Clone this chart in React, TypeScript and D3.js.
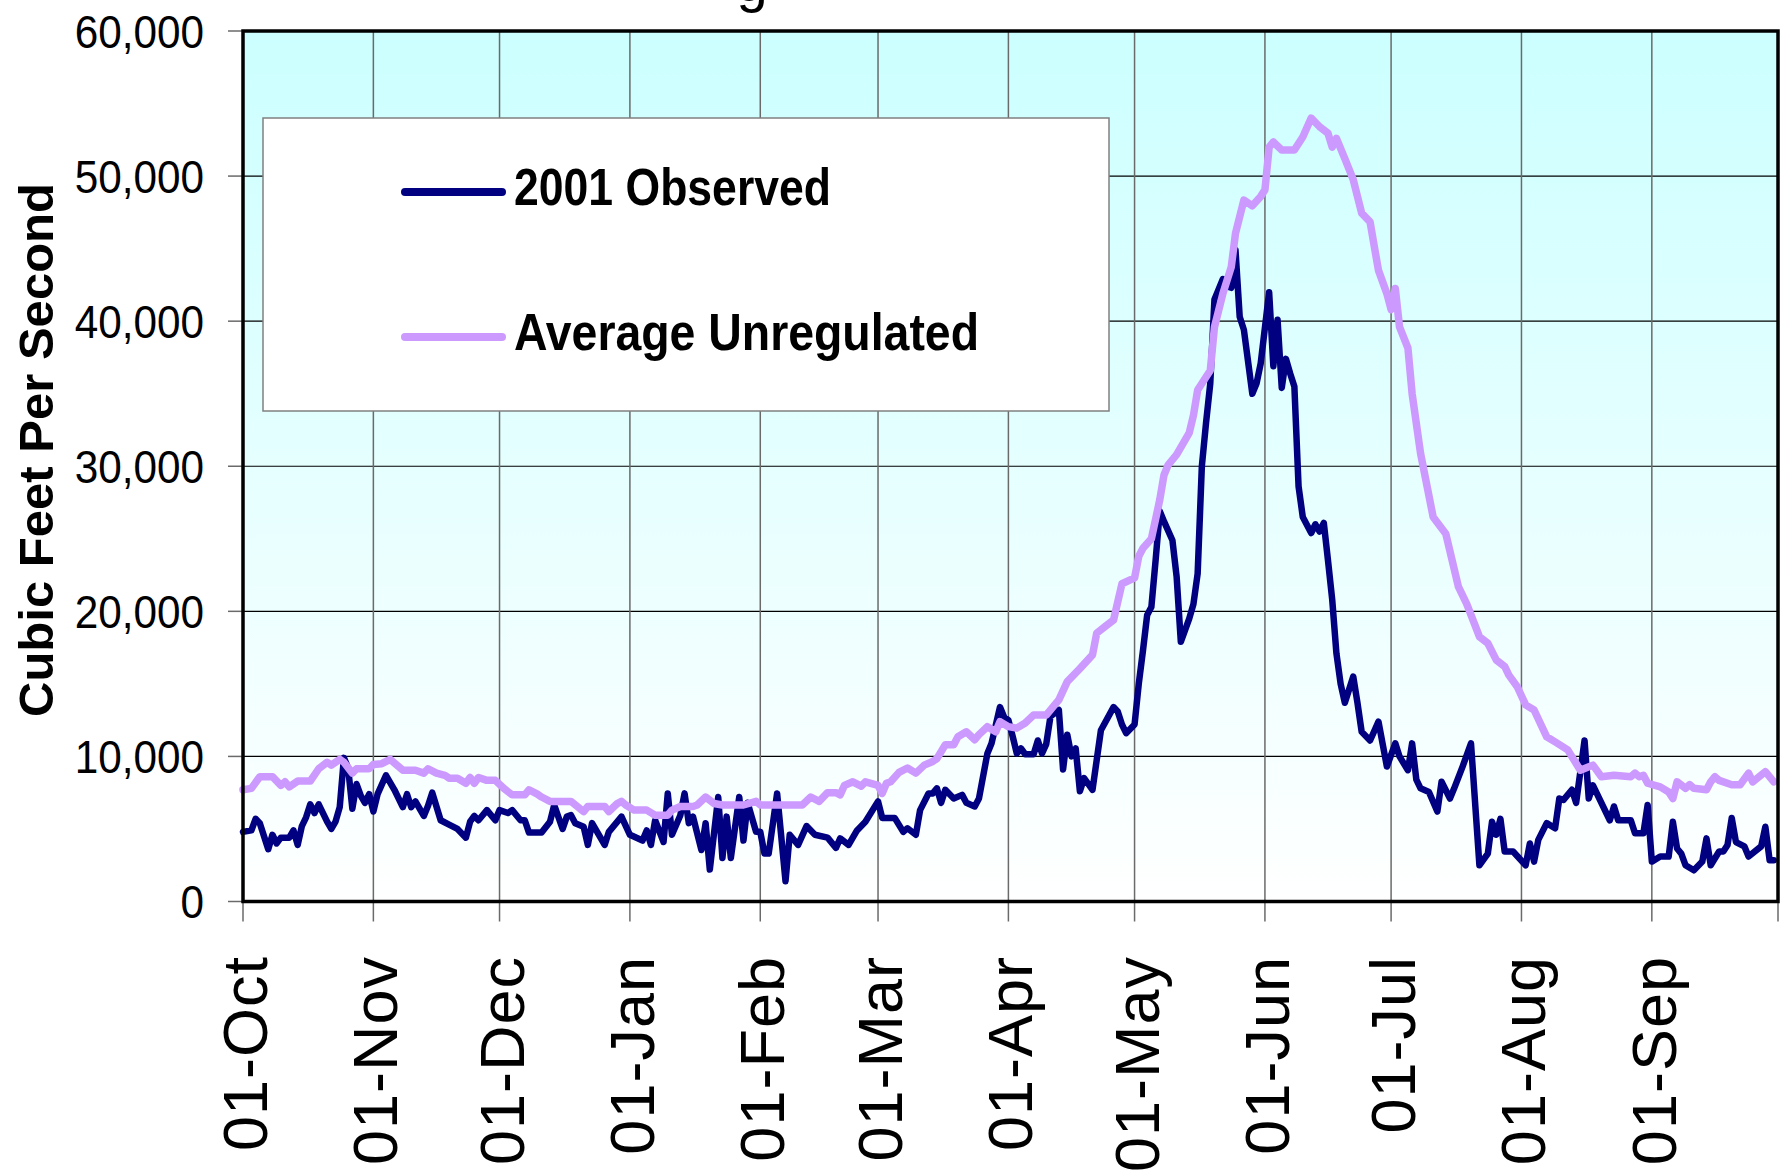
import { useEffect, useRef } from 'react';
import * as d3 from 'd3';

// flows: [days after 01-Oct-2000, thousand cubic feet per second]
const observed: [number, number][] = [
  [0,4.8],[2,4.9],[3,5.7],[4,5.4],[6,3.6],[7,4.6],[8,4.0],[9,4.4],[11,4.4],[12,4.9],[13,3.9],[14,5.2],[15,5.8],[16,6.7],[17,6.1],[18,6.7],[20,5.5],[21,5.0],[22,5.5],[23,6.5],[24,9.9],[25,9.2],[26,6.4],[27,8.1],[28,7.3],[29,6.8],[30,7.4],[31,6.2],[32,7.4],[34,8.7],[36,7.7],[38,6.5],[39,7.4],[40,6.5],[41,6.9],[43,5.9],[44,6.6],[45,7.5],[47,5.6],[49,5.3],[51,5.0],[53,4.4],[54,5.5],[55,5.9],[56,5.6],[58,6.3],[60,5.6],[61,6.3],[63,6.1],[64,6.3],[66,5.6],[67,5.6],[68,4.75],[71,4.75],[73,5.5],[74,6.65],[76,5.0],[77,5.85],[78,5.95],[79,5.4],[81,5.15],[82,3.9],[83,5.4],[86,3.9],[87,4.8],[90,5.85],[92,4.6],[95,4.2],[96,4.9],[97,3.9],[98,5.6],[100,4.1],[101,7.45],[102,4.6],[104,5.95],[105,7.45],[106,5.4],[107,5.85],[109,3.55],[110,5.4],[111,2.2],[113,7.2],[114,3.0],[115,5.85],[116,3.0],[118,7.2],[119,4.2],[120,6.8],[122,4.8],[123,4.8],[124,3.3],[125,3.3],[127,7.45],[128,4.45],[129,1.4],[130,4.6],[132,3.9],[134,5.2],[136,4.6],[139,4.4],[141,3.7],[142,4.35],[144,3.9],[146,4.9],[148,5.5],[151,6.9],[152,5.75],[155,5.75],[157,4.8],[158,5.05],[160,4.6],[161,6.3],[163,7.45],[164,7.45],[165,7.8],[166,6.8],[167,7.7],[169,7.1],[171,7.35],[172,6.8],[174,6.55],[175,7.1],[177,10.2],[178,10.9],[180,13.4],[181,12.7],[182,12.5],[183,11.4],[184,10.2],[185,10.55],[186,10.15],[188,10.15],[189,11.1],[190,10.2],[191,10.85],[192,12.75],[194,13.2],[195,9.1],[196,11.5],[197,10.0],[198,10.55],[199,7.6],[200,8.5],[202,7.7],[203,9.75],[204,11.8],[207,13.4],[208,13.1],[209,12.2],[210,11.6],[212,12.2],[213,15.0],[214,17.3],[215,19.75],[216,20.3],[217,23.5],[218,26.9],[219,26.2],[221,24.9],[222,22.4],[223,17.9],[225,19.5],[226,20.5],[227,22.6],[228,30.0],[229,33.0],[230,35.7],[231,41.5],[233,42.9],[234,42.4],[235,42.3],[236,44.9],[237,40.3],[238,39.4],[240,35.0],[241,35.7],[242,37.1],[244,42.0],[245,36.9],[246,40.1],[247,35.4],[248,37.4],[249,36.4],[250,35.5],[251,28.6],[252,26.5],[254,25.4],[255,26.0],[256,25.5],[257,26.1],[258,23.5],[259,20.8],[260,17.1],[261,15.0],[262,13.7],[264,15.5],[265,13.7],[266,11.7],[268,11.1],[270,12.4],[272,9.3],[274,10.9],[275,10.0],[277,9.05],[278,10.9],[279,8.4],[280,7.8],[282,7.55],[284,6.2],[285,8.25],[287,7.1],[288,7.8],[290,9.3],[292,10.9],[294,2.5],[296,3.3],[297,5.5],[298,4.6],[299,5.7],[300,3.45],[302,3.45],[305,2.5],[306,4.0],[307,2.75],[308,4.25],[310,5.4],[312,5.05],[313,7.1],[314,7.0],[316,7.7],[317,6.8],[319,11.1],[320,7.1],[321,8.0],[325,5.6],[326,6.55],[327,5.6],[330,5.6],[331,4.7],[333,4.7],[334,6.65],[335,2.75],[337,3.1],[339,3.1],[340,5.5],[341,3.65],[342,3.3],[343,2.5],[345,2.15],[347,2.75],[348,4.35],[349,2.5],[351,3.45],[352,3.45],[353,3.9],[354,5.75],[355,4.1],[357,3.8],[358,3.1],[361,3.8],[362,5.15],[363,2.85],[364,2.85],
];

const average: [number, number][] = [
  [0,7.7],[2,7.8],[4,8.6],[7,8.6],[9,8.0],[10,8.25],[11,7.9],[13,8.3],[16,8.3],[18,9.15],[20,9.6],[21,9.4],[23,9.8],[24,9.6],[26,8.85],[27,9.15],[30,9.15],[31,9.45],[33,9.5],[35,9.8],[38,9.05],[41,9.05],[43,8.85],[44,9.15],[46,8.85],[48,8.7],[49,8.5],[51,8.5],[53,8.15],[54,8.55],[55,8.15],[56,8.55],[58,8.35],[60,8.35],[62,7.8],[64,7.35],[67,7.35],[68,7.7],[70,7.4],[71,7.2],[73,6.9],[78,6.9],[81,6.2],[82,6.55],[86,6.55],[87,6.2],[89,6.75],[90,6.9],[91,6.65],[93,6.3],[96,6.3],[98,5.95],[101,5.95],[102,6.3],[104,6.55],[107,6.55],[108,6.65],[110,7.2],[112,6.75],[114,6.65],[119,6.65],[122,6.9],[123,6.65],[133,6.65],[135,7.2],[137,6.9],[139,7.5],[141,7.5],[142,7.35],[143,8.0],[145,8.25],[147,7.95],[148,8.25],[151,8.0],[152,7.45],[153,8.15],[154,8.25],[156,8.9],[158,9.2],[160,8.85],[162,9.4],[164,9.65],[165,9.85],[167,10.8],[169,10.8],[170,11.35],[172,11.7],[174,11.15],[175,11.5],[177,12.05],[179,11.7],[180,12.4],[182,12.05],[184,11.95],[186,12.3],[188,12.85],[191,12.85],[193,13.55],[194,13.9],[196,15.15],[199,16.05],[202,17.0],[203,18.5],[205,18.95],[207,19.4],[209,21.9],[212,22.3],[213,23.8],[214,24.35],[216,25.0],[218,27.7],[219,29.4],[220,30.1],[222,30.8],[225,32.3],[226,33.5],[227,35.25],[230,36.6],[231,39.6],[233,41.9],[235,43.75],[236,46.05],[238,48.35],[240,47.95],[242,48.6],[243,49.05],[244,52.0],[245,52.35],[247,51.8],[250,51.8],[252,52.7],[254,54.0],[256,53.4],[258,52.95],[259,52.0],[260,52.6],[262,51.2],[264,49.75],[266,47.45],[268,46.85],[269,45.15],[270,43.5],[272,41.9],[273,40.8],[274,42.25],[275,39.6],[277,38.15],[278,35.0],[280,30.9],[283,26.5],[286,25.35],[289,21.7],[291,20.5],[294,18.25],[296,17.8],[298,16.65],[300,16.2],[301,15.6],[303,14.8],[305,13.55],[307,13.2],[310,11.35],[312,11.0],[315,10.45],[318,9.05],[321,9.4],[323,8.6],[326,8.7],[330,8.6],[331,8.85],[332,8.6],[333,8.7],[334,8.15],[337,7.9],[339,7.55],[340,7.1],[341,8.25],[343,7.8],[344,8.05],[345,7.8],[348,7.7],[349,8.25],[350,8.6],[351,8.35],[354,8.05],[356,8.05],[358,8.85],[359,8.25],[362,8.95],[364,8.25],
];

const yTicks = [0, 10000, 20000, 30000, 40000, 50000, 60000];
const legendLabels = ['2001 Observed', 'Average Unregulated'];
const seriesColors = ['#000080', '#CC99FF'];
const titleFragment = 'g';

const W = 1787;
const H = 1170;
const FONT = 'Arial, "Liberation Sans", sans-serif';

export default function App() {
  const svgRef = useRef<SVGSVGElement>(null);

  useEffect(() => {
    const svg = d3.select(svgRef.current);
    svg.selectAll('*').remove();

    const left = 243, right = 1778, top = 31, bottom = 901.5;
    const start = new Date(2000, 9, 1);
    const end = new Date(2001, 9, 1);

    const x = d3.scaleTime().domain([start, end]).range([left, right]);
    const y = d3.scaleLinear().domain([0, 60000]).range([bottom, top]);
    const months = d3.timeMonth.range(start, end);

    // background gradient
    const grad = svg.append('defs').append('linearGradient')
      .attr('id', 'plotBg').attr('x1', 0).attr('y1', 0).attr('x2', 0).attr('y2', 1);
    grad.append('stop').attr('offset', '0%').attr('stop-color', '#CCFFFF');
    grad.append('stop').attr('offset', '100%').attr('stop-color', '#FFFFFF');

    svg.append('rect')
      .attr('x', left).attr('y', top)
      .attr('width', right - left).attr('height', bottom - top)
      .attr('fill', 'url(#plotBg)');

    // title, cut off at the top of the picture
    svg.append('text')
      .attr('x', 752).attr('y', 1)
      .attr('text-anchor', 'middle')
      .style('font-family', FONT).style('font-size', '56px')
      .text(titleFragment);

    // grid
    svg.append('g').selectAll('line')
      .data(yTicks.slice(1, -1))
      .enter().append('line')
      .attr('x1', left).attr('x2', right)
      .attr('y1', d => y(d)).attr('y2', d => y(d))
      .attr('stroke', '#000').attr('stroke-width', 1.2);

    svg.append('g').selectAll('line')
      .data(months.slice(1))
      .enter().append('line')
      .attr('x1', d => x(d)).attr('x2', d => x(d))
      .attr('y1', top).attr('y2', bottom)
      .attr('stroke', '#6a6a6a').attr('stroke-width', 1.5);

    // ticks
    svg.append('g').selectAll('line')
      .data([...months, end])
      .enter().append('line')
      .attr('x1', d => x(d)).attr('x2', d => x(d))
      .attr('y1', bottom).attr('y2', bottom + 20)
      .attr('stroke', '#6a6a6a').attr('stroke-width', 1.5);

    svg.append('g').selectAll('line')
      .data(yTicks)
      .enter().append('line')
      .attr('x1', left - 15).attr('x2', left)
      .attr('y1', d => y(d)).attr('y2', d => y(d))
      .attr('stroke', '#6a6a6a').attr('stroke-width', 1.5);

    // tick labels
    const fmt = d3.format(',');
    svg.append('g').selectAll('text')
      .data(yTicks)
      .enter().append('text')
      .attr('transform', d => `translate(204, ${y(d)}) scale(0.9, 1)`)
      .attr('dy', '0.36em')
      .attr('text-anchor', 'end')
      .style('font-family', FONT).style('font-size', '47px')
      .text(d => fmt(d));

    const monthFmt = d3.timeFormat('%d-%b');
    svg.append('g').selectAll('text')
      .data(months)
      .enter().append('text')
      .attr('transform', d => `translate(${x(d) + 24}, 956) rotate(-90)`)
      .attr('text-anchor', 'end')
      .style('font-family', FONT).style('font-size', '63px')
      .style('letter-spacing', '1px')
      .text(d => monthFmt(d));

    // y axis title
    svg.append('text')
      .attr('transform', 'translate(53, 450) rotate(-90)')
      .attr('text-anchor', 'middle')
      .attr('textLength', 534)
      .attr('lengthAdjust', 'spacing')
      .style('font-family', FONT).style('font-size', '49px').style('font-weight', 'bold')
      .text('Cubic Feet Per Second');

    // series
    const line = d3.line<[number, number]>()
      .x(d => x(d3.timeDay.offset(start, d[0])))
      .y(d => y(d[1] * 1000));

    [observed, average].forEach((series, i) => {
      svg.append('path')
        .datum(series)
        .attr('fill', 'none')
        .attr('stroke', seriesColors[i])
        .attr('stroke-width', i === 0 ? 6.5 : 7.5)
        .attr('stroke-linejoin', 'round')
        .attr('stroke-linecap', 'round')
        .attr('d', line);
    });

    // plot frame
    svg.append('rect')
      .attr('x', left).attr('y', top)
      .attr('width', right - left).attr('height', bottom - top)
      .attr('fill', 'none').attr('stroke', '#000').attr('stroke-width', 3.5);

    // legend
    const lg = svg.append('g');
    lg.append('rect')
      .attr('x', 263).attr('y', 118)
      .attr('width', 846).attr('height', 293)
      .attr('fill', '#fff').attr('stroke', '#808080').attr('stroke-width', 1.5);

    const rowY = [192, 337];
    const textLen = [317, 465];
    legendLabels.forEach((label, i) => {
      lg.append('line')
        .attr('x1', 405).attr('x2', 502)
        .attr('y1', rowY[i]).attr('y2', rowY[i])
        .attr('stroke', seriesColors[i]).attr('stroke-width', 8)
        .attr('stroke-linecap', 'round');
      lg.append('text')
        .attr('x', 514).attr('y', rowY[i] + 13)
        .attr('textLength', textLen[i])
        .attr('lengthAdjust', 'spacingAndGlyphs')
        .style('font-family', FONT).style('font-size', '52px').style('font-weight', 'bold')
        .text(label);
    });
  }, []);

  return (
    <svg
      ref={svgRef}
      width={W}
      height={H}
      style={{ position: 'absolute', left: 0, top: 0, background: '#fff' }}
    />
  );
}
